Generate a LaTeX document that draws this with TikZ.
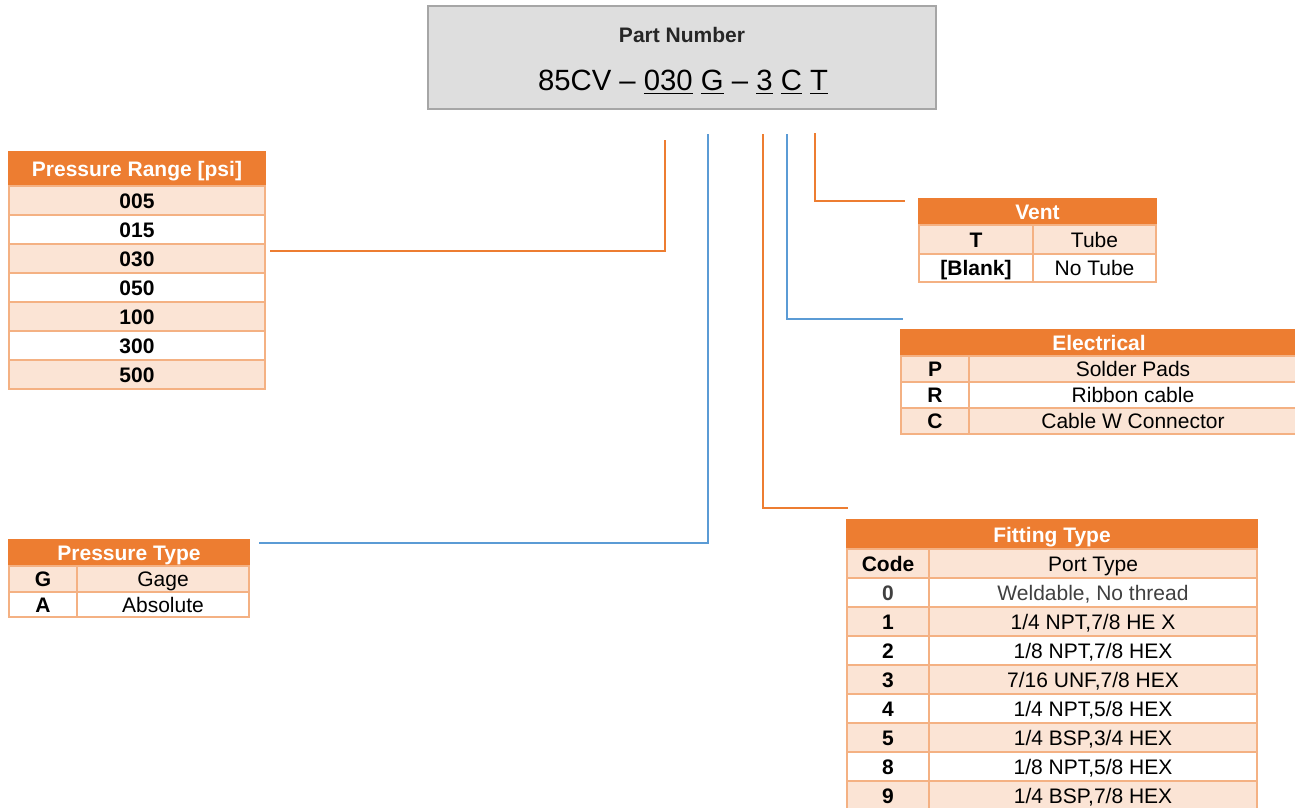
\documentclass[tikz,border=0pt]{standalone}
\usepackage{fontspec}
\setmainfont{Liberation Sans}
\definecolor{hdor}{HTML}{ED7D31}
\definecolor{ltor}{HTML}{FBE4D5}
\definecolor{bord}{HTML}{F4B183}
\definecolor{lnor}{HTML}{ED7D31}
\definecolor{lnbl}{HTML}{5B9BD5}
\definecolor{pnfill}{HTML}{DEDEDE}
\definecolor{pnbord}{HTML}{A6A6A6}
\definecolor{txt}{HTML}{000000}
\definecolor{gtxt}{HTML}{404040}
\newcommand\myul[1]{\vtop{\hbox{#1}\kern2pt\hrule height 1.6pt}}
\newcommand\tcell[7]{\node[cellbase,#6,minimum width={(#4-#2)*1pt},minimum height={(#5-#3)*1pt}] (#1) at ({(#2+#4)/2},{(#3+#5)/2}) {#7};}
\tikzset{
  cellbase/.style={draw=bord, line width=1.2pt, inner sep=0pt, outer sep=0pt, text height=15pt, text depth=0pt},
  hd/.style={fill=hdor, draw=hdor, text=white, font=\fontsize{21}{25}\selectfont\bfseries},
  lb/.style={fill=ltor, font=\fontsize{21}{25}\selectfont\bfseries},
  lr/.style={fill=ltor, font=\fontsize{21}{25}\selectfont},
  wb/.style={fill=white, font=\fontsize{21}{25}\selectfont\bfseries},
  wr/.style={fill=white, font=\fontsize{21}{25}\selectfont},
  oline/.style={draw=lnor, line width=2pt},
  bline/.style={draw=lnbl, line width=2pt}
}
\begin{document}
\begin{tikzpicture}[x=1pt,y=-1pt]
\useasboundingbox (0,0) rectangle (1295,808);
% part number box
\node[draw=pnbord, fill=pnfill, line width=1.2pt, minimum width=508pt, minimum height=103pt, inner sep=0pt] (pn) at (682,57.5) {};
\node[anchor=base, font=\fontsize{21}{25}\selectfont\bfseries, text=black!85, inner sep=0pt] (pnTitle) at (682,42.5) {Part Number};
\node[anchor=base, font=\fontsize{29.3}{33}\selectfont, inner sep=0pt] (pnCode) at (683,90.5) {85CV – \myul{030} \myul{G} – \myul{3} \myul{C} \myul{T}};

% connectors
\coordinate (s1) at (665,140); \coordinate (e1) at (270,251);
\coordinate (s2) at (708,134); \coordinate (e2) at (259,543);
\coordinate (s3) at (763,134); \coordinate (e3) at (848,508);
\coordinate (s4) at (787,134); \coordinate (e4) at (903,319);
\coordinate (s5) at (815,133); \coordinate (e5) at (905,201);
\draw[oline] (s1) |- (e1);
\draw[bline] (s2) |- (e2);
\draw[oline] (s3) |- (e3);
\draw[bline] (s4) |- (e4);
\draw[oline] (s5) |- (e5);

% Pressure Range
\tcell{prH}{9}{152}{265}{186}{hd}{Pressure Range [psi]}
\tcell{pr1}{9}{186}{265}{215}{lb}{005}
\tcell{pr2}{9}{215}{265}{244}{wb}{015}
\tcell{pr3}{9}{244}{265}{273}{lb}{030}
\tcell{pr4}{9}{273}{265}{302}{wb}{050}
\tcell{pr5}{9}{302}{265}{331}{lb}{100}
\tcell{pr6}{9}{331}{265}{360}{wb}{300}
\tcell{pr7}{9}{360}{265}{389}{lb}{500}

% Pressure Type
\tcell{ptH}{9}{540}{249}{566}{hd}{Pressure Type}
\tcell{ptGa}{9}{566}{77}{592}{lb}{G}
\tcell{ptGb}{77}{566}{249}{592}{lr}{Gage}
\tcell{ptAa}{9}{592}{77}{617}{wb}{A}
\tcell{ptAb}{77}{592}{249}{617}{wr}{Absolute}

% Vent
\tcell{vH}{919}{199}{1156}{225}{hd}{Vent}
\tcell{vTa}{919}{225}{1033}{254}{lb}{T}
\tcell{vTb}{1033}{225}{1156}{254}{lr}{Tube}
\tcell{vBa}{919}{254}{1033}{282}{wb}{[Blank]}
\tcell{vBb}{1033}{254}{1156}{282}{wr}{No Tube}

% Electrical
\tcell{elH}{901}{330}{1297}{356}{hd}{Electrical}
\tcell{elPa}{901}{356}{969}{382}{lb}{P}
\tcell{elPb}{969}{356}{1297}{382}{lr}{Solder Pads}
\tcell{elRa}{901}{382}{969}{408}{wb}{R}
\tcell{elRb}{969}{382}{1297}{408}{wr}{Ribbon cable}
\tcell{elCa}{901}{408}{969}{434}{lb}{C}
\tcell{elCb}{969}{408}{1297}{434}{lr}{Cable W Connector}

% Fitting Type
\tcell{ftH}{847}{520}{1257}{549}{hd}{Fitting Type}
\tcell{ftCa}{847}{549}{929}{578}{lb}{Code}
\tcell{ftCb}{929}{549}{1257}{578}{lr}{Port Type}
\tcell{ft0a}{847}{578}{929}{607}{wb,text=gtxt}{0}
\tcell{ft0b}{929}{578}{1257}{607}{wr,text=gtxt}{Weldable, No thread}
\tcell{ft1a}{847}{607}{929}{636}{lb}{1}
\tcell{ft1b}{929}{607}{1257}{636}{lr}{1/4 NPT,7/8 HE X}
\tcell{ft2a}{847}{636}{929}{665}{wb}{2}
\tcell{ft2b}{929}{636}{1257}{665}{wr}{1/8 NPT,7/8 HEX}
\tcell{ft3a}{847}{665}{929}{694}{lb}{3}
\tcell{ft3b}{929}{665}{1257}{694}{lr}{7/16 UNF,7/8 HEX}
\tcell{ft4a}{847}{694}{929}{723}{wb}{4}
\tcell{ft4b}{929}{694}{1257}{723}{wr}{1/4 NPT,5/8 HEX}
\tcell{ft5a}{847}{723}{929}{752}{lb}{5}
\tcell{ft5b}{929}{723}{1257}{752}{lr}{1/4 BSP,3/4 HEX}
\tcell{ft8a}{847}{752}{929}{781}{wb}{8}
\tcell{ft8b}{929}{752}{1257}{781}{wr}{1/8 NPT,5/8 HEX}
\tcell{ft9a}{847}{781}{929}{810}{lb}{9}
\tcell{ft9b}{929}{781}{1257}{810}{lr}{1/4 BSP,7/8 HEX}
\end{tikzpicture}
\end{document}
